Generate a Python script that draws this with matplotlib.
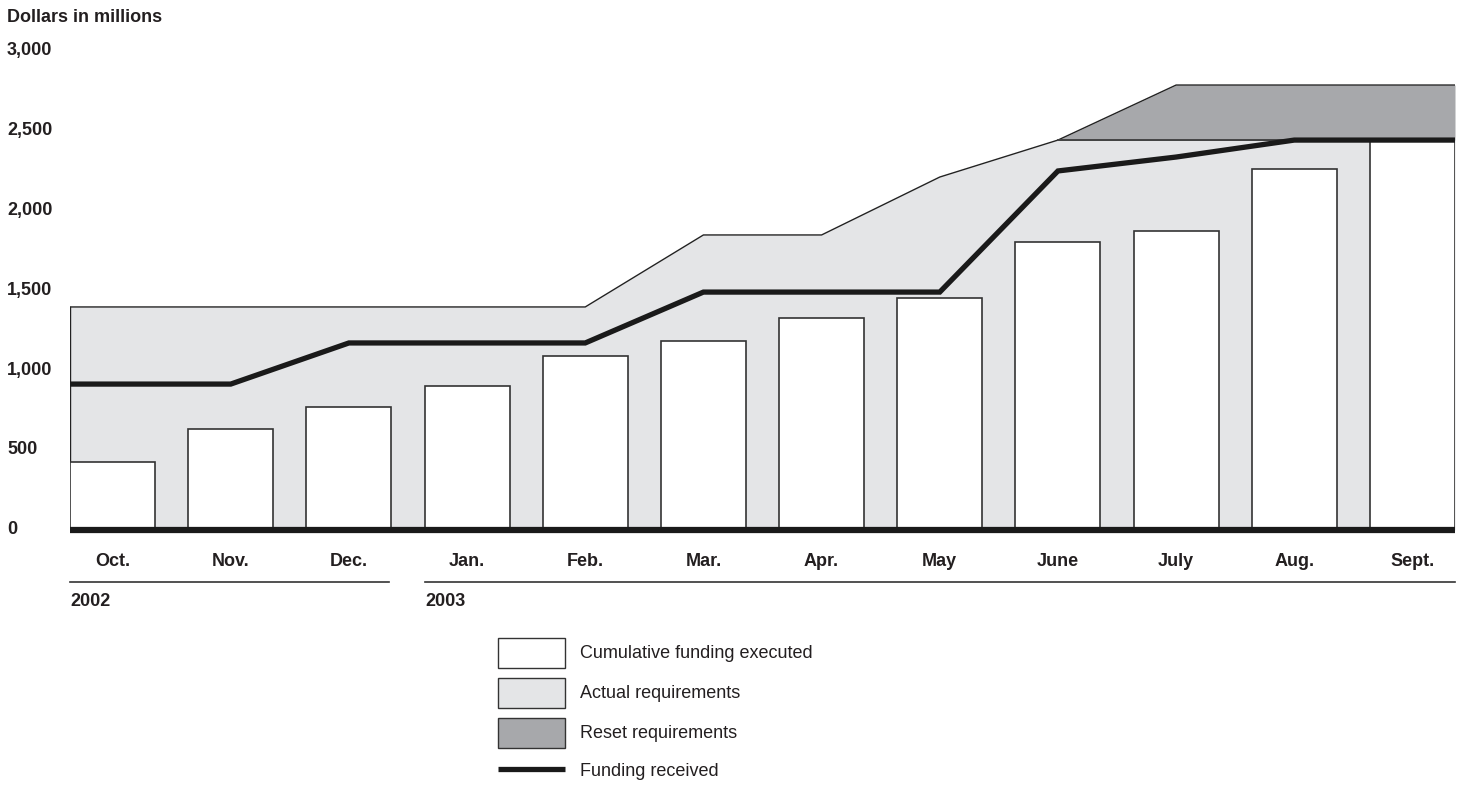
import matplotlib
matplotlib.use("Agg")
import matplotlib.pyplot as plt
from matplotlib.patches import Rectangle
from matplotlib.lines import Line2D

plt.rcParams['font.family'] = ['Liberation Sans', 'DejaVu Sans']

months = ["Oct.", "Nov.", "Dec.", "Jan.", "Feb.", "Mar.", "Apr.", "May", "June", "July", "Aug.", "Sept."]
executed = [425, 631, 769, 900, 1088, 1181, 1325, 1450, 1800, 1869, 2256, 2437]

# Step/segment breakpoints (x in month index; edges are -0.36 and 11.36)
req_x = [-0.36, 4, 5, 6, 7, 8, 11.36]
req_y = [1394, 1394, 1844, 1844, 2206, 2437, 2437]
reset_x = [8, 9, 11.36]
reset_y = [2437, 2781, 2781]
fund_x = [-0.36, 1, 2, 4, 5, 7, 8, 9, 10, 11.36]
fund_y = [912, 912, 1169, 1169, 1487, 1487, 2244, 2331, 2437, 2437]
yticks = [0, 500, 1000, 1500, 2000, 2500, 3000]
ytick_labels = ["0", "500", "1,000", "1,500", "2,000", "2,500", "3,000"]
years = ["2002", "2003"]

W, H = 1461, 786
FS = 13
fig = plt.figure(figsize=(W / 100, H / 100), dpi=100)
ax = fig.add_axes([70 / W, (H - 530) / H, 1385 / W, 480 / H])
ax.set_xlim(-0.36, 11.36)
ax.set_ylim(0, 3000)
ax.axis('off')

light = '#e4e5e7'
dark = '#a7a8ab'
txt = '#231f20'

# actual requirements area
ax.fill_between(req_x, 0, req_y, color=light, lw=0, zorder=1)
ax.plot(req_x, req_y, color='#222222', lw=1.0, zorder=2)
ax.plot([req_x[0], req_x[0]], [0, req_y[0]], color='#222222', lw=1.0, zorder=2)
# reset requirements
ax.fill_between(reset_x, [2437] * len(reset_x), reset_y, color=dark, lw=0, zorder=1)
ax.plot(reset_x, reset_y, color='#222222', lw=1.0, zorder=2)
ax.plot([reset_x[0], reset_x[-1]], [2437, 2437], color='#444444', lw=1.2, zorder=2)

# bars
ax.bar(range(len(months)), executed, width=0.72, color='white', edgecolor='#333333',
       linewidth=1.2, zorder=3)

# funding line
ax.plot(fund_x, fund_y, color='#1a1a1a', lw=3.8, zorder=4, solid_joinstyle='miter',
        solid_capstyle='butt')

# baseline
ax.plot([-0.36, 11.36], [0, 0], color='#1a1a1a', lw=4.5, zorder=5, clip_on=False,
        solid_capstyle='butt')

# y tick labels
for v, lab in zip(yticks, ytick_labels):
    ax.annotate(lab, xy=(0, v), xycoords=('figure fraction', 'data'), xytext=(7, 0),
                textcoords='offset pixels', ha='left', va='center', fontsize=FS,
                fontweight='bold', color=txt, annotation_clip=False)

fig.text(7 / W, 1 - 17 / H, "Dollars in millions", ha='left', va='center', fontsize=FS,
         fontweight='bold', color=txt)

# month labels
for i, m in enumerate(months):
    ax.annotate(m, xy=(i, 0), xycoords='data', xytext=(0, -31), textcoords='offset pixels',
                ha='center', va='center', fontsize=FS, fontweight='bold', color=txt,
                annotation_clip=False)

# year separators
ly = 1 - 582 / H
fig.add_artist(Line2D([70 / W, 389 / W], [ly, ly], color='#333333', lw=1.2))
fig.add_artist(Line2D([425 / W, 1455 / W], [ly, ly], color='#333333', lw=1.2))
fig.text(70 / W, 1 - 601 / H, years[0], ha='left', va='center', fontsize=FS,
         fontweight='bold', color=txt)
fig.text(425 / W, 1 - 601 / H, years[1], ha='left', va='center', fontsize=FS,
         fontweight='bold', color=txt)

# legend
leg = [("Cumulative funding executed", 'white'),
       ("Actual requirements", light),
       ("Reset requirements", dark)]
for k, (lab, col) in enumerate(leg):
    top = 638 + 40 * k
    fig.add_artist(Rectangle((498 / W, 1 - (top + 30) / H), 67 / W, 30 / H,
                             facecolor=col, edgecolor='#333333', lw=1.0,
                             transform=fig.transFigure))
    fig.text(580 / W, 1 - (top + 16) / H, lab, ha='left', va='center', fontsize=FS,
             color=txt)
fig.add_artist(Line2D([498 / W, 565 / W], [1 - 769 / H, 1 - 769 / H], color='#1a1a1a',
                      lw=3.8, solid_capstyle='butt'))
fig.text(580 / W, 1 - 771 / H, "Funding received", ha='left', va='center', fontsize=FS,
         color=txt)

fig.savefig("out.png", dpi=100)
